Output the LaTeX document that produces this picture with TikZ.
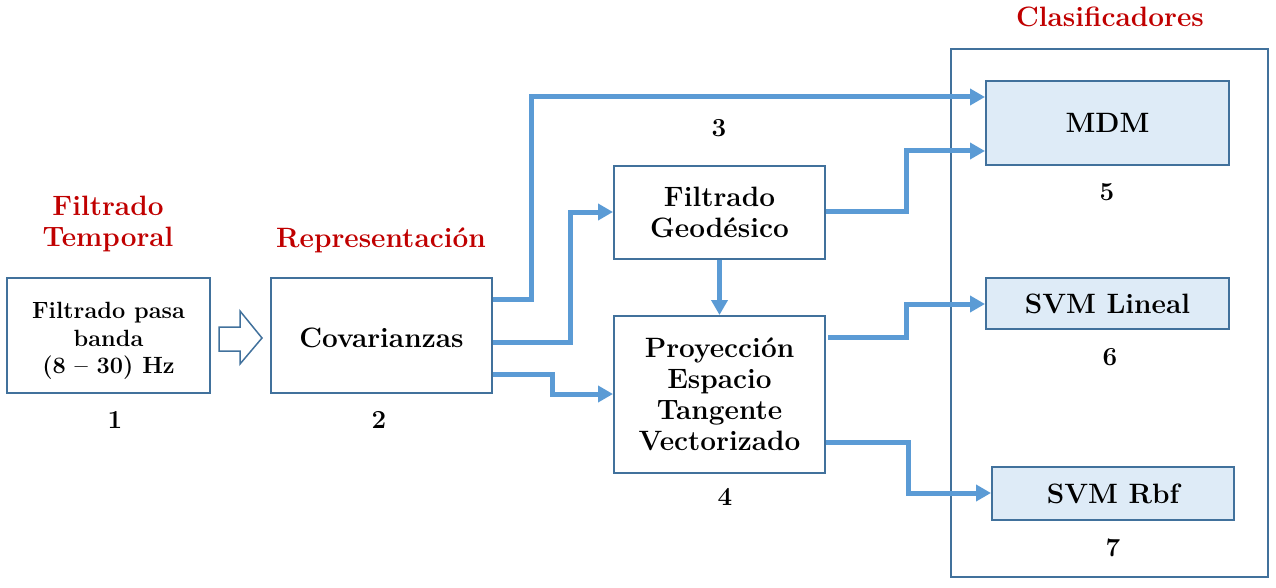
\documentclass[tikz,border=0pt]{standalone}
\usepackage{fontspec}
\usetikzlibrary{arrows.meta}
\definecolor{boxline}{HTML}{41719C}
\definecolor{flow}{HTML}{5B9BD5}
\definecolor{clsfill}{HTML}{DEEBF7}
\definecolor{titlered}{HTML}{C00000}
\tikzset{
  box/.style={draw=boxline, line width=2pt, fill=white, align=center, inner sep=0pt, font=\fontsize{28}{31}\selectfont\bfseries},
  clsbox/.style={box, fill=clsfill},
  title/.style={text=titlered, align=center, font=\fontsize{28}{31}\selectfont\bfseries},
  num/.style={font=\fontsize{26}{28}\selectfont\bfseries},
  flowline/.style={draw=flow, line width=5pt, line join=miter, -{Triangle[length=15pt,width=16pt]}},
}
\begin{document}
\begin{tikzpicture}[x=1pt,y=-1pt]
\useasboundingbox (0,0) rectangle (1276,588);
% container
\node[draw=boxline, line width=2pt, minimum width=317pt, minimum height=528pt, inner sep=0pt] (cont) at (1109.5,313) {};
% boxes
\node[box, minimum width=203pt, minimum height=115pt] (b1) at (108.5,335.5) {};
\node[align=center, inner sep=0pt, font=\fontsize{23.5}{27.5}\selectfont\bfseries] (b1text) at (108.5,341) {Filtrado pasa\\banda\\(8 -- 30) Hz};
\node[box, minimum width=221pt, minimum height=115pt] (b2) at (381.5,335.5) {};
\node[inner sep=0pt, font=\fontsize{28}{31}\selectfont\bfseries] (b2text) at (381.5,338) {Covarianzas};
\node[box, minimum width=211pt, minimum height=93pt] (b3) at (719.5,212.5) {Filtrado\\Geodésico};
\node[box, minimum width=211pt, minimum height=157pt] (b4) at (719.5,394.5) {Proyección\\Espacio\\Tangente\\Vectorizado};
\node[clsbox, minimum width=243pt, minimum height=84pt] (c5) at (1107.5,123) {MDM};
\node[clsbox, minimum width=243pt, minimum height=51pt] (c6) at (1107.5,303.5) {SVM Lineal};
\node[clsbox, minimum width=242pt, minimum height=53pt] (c7) at (1113,493.5) {SVM Rbf};
% titles
\node[title] (t1) at (108,224) {Filtrado\\Temporal};
\node[title] (t2) at (381,240) {Representación};
\node[title] (t3) at (1110,17) {Clasificadores};
% numbers
\node[num] (n1) at (115,420) {1};
\node[num] (n2) at (379,420) {2};
\node[num] (n3) at (719,128) {3};
\node[num] (n4) at (725,497) {4};
\node[num] (n5) at (1107,192) {5};
\node[num] (n6) at (1110,357) {6};
\node[num] (n7) at (1113,548) {7};
% hollow arrow
\draw[boxline, line width=1.5pt, line join=miter, fill=white] (219,327) -- (240,327) -- (240,311) -- (262,338) -- (240,364) -- (240,351) -- (219,351) -- cycle;
% flows
\draw[flowline] (b2.east |- 0,299) -- (531,299) -- (531,97) -- (c5.west |- 0,97);
\draw[flowline] (b2.east |- 0,342) -- (570,342) -- (570,212) -- (b3.west |- 0,212);
\draw[flowline] (b2.east |- 0,374) -- (552,374) -- (552,394) -- (b4.west |- 0,394);
\draw[flowline] (b3.south) -- (b4.north);
\draw[flowline] (b3.east |- 0,211) -- (906,211) -- (906,151) -- (c5.west |- 0,151);
\draw[flowline] (828,337) -- (906,337) -- (906,304) -- (c6.west |- 0,304);
\draw[flowline] (b4.east |- 0,442) -- (908,442) -- (908,493) -- (c7.west |- 0,493);
\end{tikzpicture}
\end{document}
